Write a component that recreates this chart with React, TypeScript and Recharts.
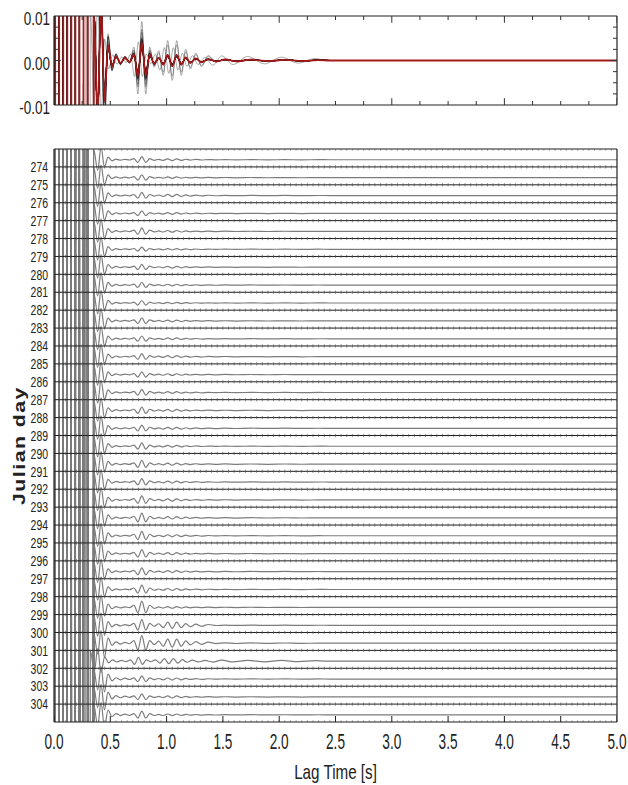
import React from "react";
import { ComposedChart, Line, XAxis, YAxis, ReferenceLine, Scatter } from "recharts";

const FONT = "'Liberation Sans', Arial, sans-serif";

// ---- categories / labels ----
const TRACE_DAYS = [273, 274, 275, 276, 277, 278, 279, 280, 281, 282, 283, 284, 285, 286, 287, 288, 289, 290, 291, 292, 293, 294, 295, 296, 297, 298, 299, 300, 301, 302, 303, 304];
const DAY_LABELS = [274, 275, 276, 277, 278, 279, 280, 281, 282, 283, 284, 285, 286, 287, 288, 289, 290, 291, 292, 293, 294, 295, 296, 297, 298, 299, 300, 301, 302, 303, 304];
const LAG_TICKS = [0, 0.5, 1, 1.5, 2, 2.5, 3, 3.5, 4, 4.5, 5];
const STACK_TICKS = [0.01, 0, -0.01];

// ---- waveform keypoints (lag s, amplitude x1e-3) ----
const WAVE_T = [0, 0.028, 0.064, 0.1, 0.136, 0.172, 0.208, 0.244, 0.28, 0.316, 0.352, 0.388, 0.418, 0.448, 0.48, 0.515, 0.55, 0.59, 0.63, 0.67, 0.71, 0.745, 0.78, 0.815, 0.85, 0.89, 0.93, 0.97, 1.01, 1.05, 1.09, 1.13, 1.17, 1.21, 1.26, 1.31, 1.37, 1.44, 1.52, 1.62, 1.75, 1.9, 2.05, 2.2, 2.35, 2.45, 5.0];
const WAVE_V = [6000, -10000, 10000, -10000, 10000, -10000, 10000, -10000, 10000, -10000, 12, -12, 14, -8, 3, -1.2, 0.8, -0.5, 0.5, -0.3, 1.2, -3, 3.5, -3, 1.2, -0.6, 0.8, -1.2, 1.6, -1.6, 1.6, -1.2, 0.9, -0.7, 0.6, -0.5, 0.4, -0.35, 0.35, -0.3, 0.3, -0.25, 0.25, -0.2, 0.15, 0, 0];

// ---- per-day gains of the coda windows, read from each row ----
const GAIN_EARLY = [1, 1, 1, 1, 1, 1, 1, 1, 1, 1, 1, 1, 1, 1, 1, 1, 1, 1, 1, 1, 1.1, 1.1, 1, 1, 1, 1.2, 1.4, 2.0, 1.6, 1.8, 1.8, 1.8];
const GAIN_MID = [1, 0.9, 1, 0.8, 1.1, 0.7, 0.9, 0.9, 0.8, 1, 0.9, 1, 0.9, 1, 1.1, 1, 1.1, 1.2, 1.1, 1.3, 1.5, 1.4, 1.3, 1.2, 1.4, 2.0, 1.8, 2.5, 1.2, 1.0, 1.0, 1.2];
const GAIN_LATE = [0.6, 0.5, 0.8, 0.6, 0.6, 0.5, 0.6, 0.6, 0.5, 0.6, 0.6, 0.7, 0.6, 0.6, 0.7, 0.7, 0.6, 0.7, 0.7, 0.8, 0.8, 0.7, 0.7, 0.7, 0.7, 0.6, 2.2, 2.8, 1.8, 0.7, 0.7, 0.6];
const GAIN_TAIL = [0.5, 0.5, 0.6, 0.5, 0.5, 0.5, 0.5, 0.5, 0.5, 0.5, 0.5, 0.6, 0.5, 0.5, 0.6, 0.6, 0.5, 0.6, 0.6, 0.6, 0.6, 0.6, 0.6, 0.6, 0.6, 0.5, 0.6, 1.0, 3.0, 0.6, 0.6, 0.5];
const ONSET_SHIFT = [0, 0, 0, 0, 0, 0, 0, 0, 0, 0, 0, 0, 0, 0, 0, 0, 0, 0, 0, 0, 0, 0, 0, 0, 0, 0, 0, 0, -0.03, 0, 0, 0];

// ---- derived tables ----
const NROWS = TRACE_DAYS.length;
const ROW_PER_MILLI = 0.05;
const BASE_OFFSET = 0.6;

function gainAt(t: number, k: number) {
  if (t < 0.44) return 1;
  if (t < 0.69) return GAIN_EARLY[k];
  if (t < 0.9) return GAIN_MID[k];
  if (t < 1.4) return GAIN_LATE[k];
  return GAIN_TAIL[k];
}

const traces = TRACE_DAYS.map((_, k) =>
  WAVE_T.map((t, i) => ({
    t: t >= 0.3 && t < 5 ? t + ONSET_SHIFT[k] : t,
    m: WAVE_V[i] * gainAt(t, k),
  }))
);

const bottomData = traces.map((tr, k) =>
  tr.map((p) => ({ t: p.t, v: NROWS - k - BASE_OFFSET + p.m * ROW_PER_MILLI }))
);
const topData = traces.map((tr) => tr.map((p) => ({ t: p.t, v: p.m * 0.001 })));
const stackData = WAVE_T.map((t, i) => {
  let s = 0;
  for (let k = 0; k < NROWS; k++) s += WAVE_V[i] * gainAt(t, k);
  return { t, v: (s / NROWS) * 0.001 };
});

const separators = Array.from({ length: NROWS + 1 }, (_, s) => s);
const sepTicks: { t: number; v: number }[] = [];
separators.forEach((s) => {
  for (let i = 0; i <= 100; i++) sepTicks.push({ t: i / 20, v: s });
});
const bottomBorderTicks = LAG_TICKS.map((t) => ({ t, v: 0 }));
const quarter = Array.from({ length: 21 }, (_, i) => i / 4);
const topEdgeTicks = quarter.map((t) => ({ t, v: 0.01 }));
const botEdgeTicks = quarter.map((t) => ({ t, v: -0.01 }));
const ampSteps = [-0.0075, -0.005, -0.0025, 0, 0.0025, 0.005, 0.0075];
const leftEdgeTicks = ampSteps.map((v) => ({ t: 0, v }));
const rightEdgeTicks = ampSteps.map((v) => ({ t: 5, v }));

const INK = "#222";

const dayTick = (p: any) => (
  <text transform={`translate(${p.x},${p.y}) scale(0.72,1)`} textAnchor="end" dy="0.36em" fontSize={14.5} fontFamily={FONT} fill={INK}>
    {NROWS - p.payload.value + TRACE_DAYS[0]}
  </text>
);
const lagTick = (p: any) => (
  <text transform={`translate(${p.x},${p.y}) scale(0.62,1)`} textAnchor="middle" dy="0.72em" fontSize={22} fontFamily={FONT} fill={INK}>
    {Number(p.payload.value).toFixed(1)}
  </text>
);
const ampTick = (p: any) => (
  <text transform={`translate(${p.x},${p.y}) scale(0.75,1)`} textAnchor="end" dy="0.5em" fontSize={18} fontFamily={FONT} fill={INK}>
    {Number(p.payload.value).toFixed(2)}
  </text>
);

const lagLabel = (p: any) => {
  const vb = p.viewBox || { x: 54, y: 597, width: 563, height: 63 };
  return (
    <text transform={`translate(${vb.x + vb.width / 2},${vb.y + vb.height - 6}) scale(0.76,1)`} textAnchor="middle" fontSize={20} fontFamily={FONT} fill={INK}>
      Lag Time [s]
    </text>
  );
};
const dayLabel = (p: any) => {
  const vb = p.viewBox || { x: 0, y: 24, width: 54, height: 573 };
  return (
    <text transform={`translate(${vb.x + 25},${vb.y + vb.height / 2 + 10}) rotate(-90) scale(1.25,1)`} textAnchor="middle" fontSize={17} fontWeight="bold" letterSpacing={1.2} fontFamily={FONT} fill={INK}>
      Julian day
    </text>
  );
};

const vTick = (len: number) => (p: any) => (
  <line x1={p.cx} x2={p.cx} y1={p.cy} y2={p.cy + (Number.isInteger(p.payload.t) ? len * 1.7 : len)} stroke="#333" strokeWidth={1} />
);
const hTick = (len: number) => (p: any) => (
  <line x1={p.cx} x2={p.cx + (p.payload.v === 0 ? len * 1.7 : len)} y1={p.cy} y2={p.cy} stroke="#333" strokeWidth={1} />
);
const sepTick = (p: any) => (
  <line x1={p.cx} x2={p.cx} y1={p.cy - 1.6} y2={p.cy + 1.6} stroke="#555" strokeWidth={0.7} />
);
const borderTick = (p: any) => (
  <line x1={p.cx} x2={p.cx} y1={p.cy} y2={p.cy - 6} stroke="#222" strokeWidth={1} />
);

export default function App() {
  return (
    <div style={{ position: "absolute", left: 0, top: 0, width: 628, height: 785, background: "#fff" }}>
      <ComposedChart width={628} height={125} margin={{ top: 16, right: 11, bottom: 20, left: 0 }}>
        <XAxis dataKey="t" type="number" domain={[0, 5]} allowDataOverflow hide />
        <YAxis type="number" domain={[-0.01, 0.01]} allowDataOverflow ticks={STACK_TICKS} interval={0} width={54} tickLine={false} axisLine={false} tickSize={0} tickMargin={4} tick={ampTick} />
        {topData.map((d, k) => (
          <Line key={"top" + k} data={d} dataKey="v" type="monotone" stroke="#111" strokeOpacity={0.35} strokeWidth={1} dot={false} activeDot={false} isAnimationActive={false} />
        ))}
        <Line data={stackData} dataKey="v" type="monotone" stroke="#a31c1c" strokeWidth={1.8} dot={false} activeDot={false} isAnimationActive={false} />
        <ReferenceLine y={0.01} stroke="#222" strokeWidth={1.2} ifOverflow="visible" />
        <ReferenceLine y={-0.01} stroke="#222" strokeWidth={1.2} ifOverflow="visible" />
        <ReferenceLine x={0} stroke="#222" strokeWidth={1.2} ifOverflow="visible" />
        <ReferenceLine x={5} stroke="#222" strokeWidth={1.2} ifOverflow="visible" />
        <Scatter data={topEdgeTicks} dataKey="v" shape={vTick(4)} isAnimationActive={false} />
        <Scatter data={botEdgeTicks} dataKey="v" shape={vTick(-4)} isAnimationActive={false} />
        <Scatter data={leftEdgeTicks} dataKey="v" shape={hTick(4)} isAnimationActive={false} />
        <Scatter data={rightEdgeTicks} dataKey="v" shape={hTick(-4)} isAnimationActive={false} />
      </ComposedChart>
      <ComposedChart width={628} height={660} margin={{ top: 24, right: 11, bottom: 0, left: 0 }}>
        <XAxis dataKey="t" type="number" domain={[0, 5]} allowDataOverflow ticks={LAG_TICKS} interval={0} height={63} tickLine={false} axisLine={false} tickSize={6} tickMargin={5} tick={lagTick} label={lagLabel} />
        <YAxis type="number" domain={[0, NROWS]} allowDataOverflow ticks={DAY_LABELS.map((d) => NROWS - (d - TRACE_DAYS[0]))} interval={0} width={54} tickLine={false} axisLine={false} tickSize={0} tickMargin={6} tick={dayTick} label={dayLabel} />
        {bottomData.map((d, k) => (
          <Line key={"row" + k} data={d} dataKey="v" type="monotone" stroke="#7c7c7c" strokeWidth={1.2} dot={false} activeDot={false} isAnimationActive={false} />
        ))}
        {separators.map((s) => (
          <ReferenceLine key={"sep" + s} y={s} stroke="#1e1e1e" strokeWidth={1} ifOverflow="visible" />
        ))}
        <ReferenceLine x={0} stroke="#222" strokeWidth={1.2} ifOverflow="visible" />
        <ReferenceLine x={5} stroke="#222" strokeWidth={1.2} ifOverflow="visible" />
        <Scatter data={sepTicks} dataKey="v" shape={sepTick} isAnimationActive={false} />
        <Scatter data={bottomBorderTicks} dataKey="v" shape={borderTick} isAnimationActive={false} />
      </ComposedChart>
    </div>
  );
}
